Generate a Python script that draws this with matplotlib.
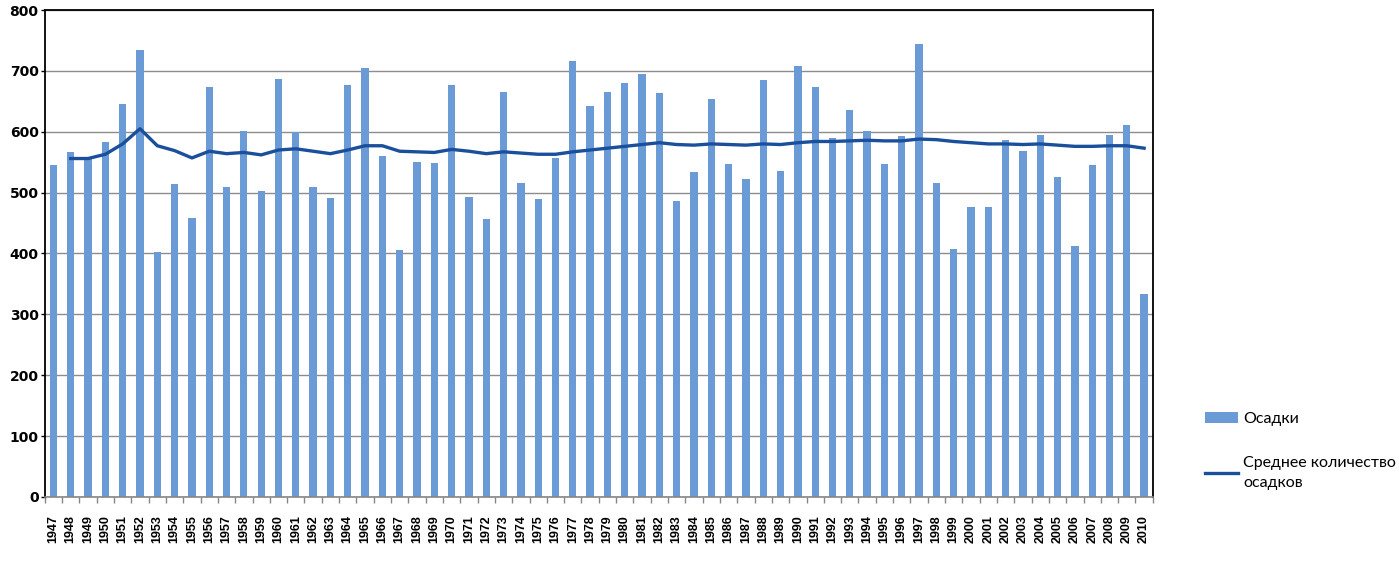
import numpy as np
import matplotlib.pyplot as plt
from matplotlib.ticker import MultipleLocator, FixedLocator

years = list(range(1947, 2011))
osadki = [546, 566, 557, 583, 646, 734, 402, 514, 458, 673,
          510, 601, 502, 686, 599, 509, 491, 676, 704, 560,
          405, 551, 549, 676, 493, 456, 665, 516, 489, 557,
          717, 643, 665, 680, 695, 663, 486, 534, 654, 547,
          523, 685, 536, 708, 673, 589, 635, 601, 547, 593,
          744, 516, 408, 477, 477, 587, 568, 594, 525, 413,
          546, 594, 611, 333]
# среднее количество осадков, с 1948 года
srednee = [556, 556, 563, 580, 605, 577, 569, 557, 568,
           564, 566, 562, 570, 572, 568, 564, 570, 577, 577,
           568, 567, 566, 571, 568, 564, 567, 565, 563, 563,
           567, 570, 573, 576, 579, 582, 579, 578, 580, 579,
           578, 580, 579, 582, 584, 584, 585, 586, 585, 585,
           588, 587, 584, 582, 580, 580, 579, 580, 578, 576,
           576, 577, 577, 573]

x = np.arange(len(years))

fig = plt.figure(figsize=(13.99, 5.62), dpi=100)
ax = fig.add_axes([0.032, 0.1157, 0.792, 0.8665])

bars = ax.bar(x, osadki, width=0.42, color='#6b9bd7', label='Осадки', zorder=2)
line, = ax.plot(x[1:], srednee, color='#1a4f9c', linewidth=2.4,
                label='Среднее количество\nосадков', zorder=3)

ax.set_xlim(-0.5, len(years) - 0.5)
ax.set_ylim(0, 800)
ax.yaxis.set_major_locator(MultipleLocator(100))
ax.grid(axis='y', color='#8c8c8c', linewidth=1.0, zorder=1)

ax.set_xticks(x)
ax.set_xticklabels(years, rotation=90, fontweight='bold', fontsize=9,
                   family=['Liberation Sans Narrow', 'Liberation Sans'])
ax.xaxis.set_minor_locator(FixedLocator(np.arange(-0.5, len(years), 1)))
ax.tick_params(axis='x', which='major', length=0, pad=13)
ax.tick_params(axis='x', which='minor', length=4, color='#868686', width=1)
ax.tick_params(axis='y', length=3, width=1, pad=1.5, labelsize=10)
for lab in ax.get_yticklabels():
    lab.set_fontweight('bold')

for s in ['top', 'right', 'left']:
    ax.spines[s].set_color('black')
    ax.spines[s].set_linewidth(1.3)
ax.spines['bottom'].set_color('#868686')
ax.spines['bottom'].set_linewidth(1.2)

leg = fig.legend(handles=[bars, line], loc='upper left', bbox_to_anchor=(0.851, 0.293),
                 frameon=False, prop={'family': 'Lato', 'size': 11.5}, handlelength=2.1,
                 handletextpad=0.3, labelspacing=1.9)
for t in leg.get_texts():
    t.set_linespacing(1.55)

fig.savefig('out.png')
